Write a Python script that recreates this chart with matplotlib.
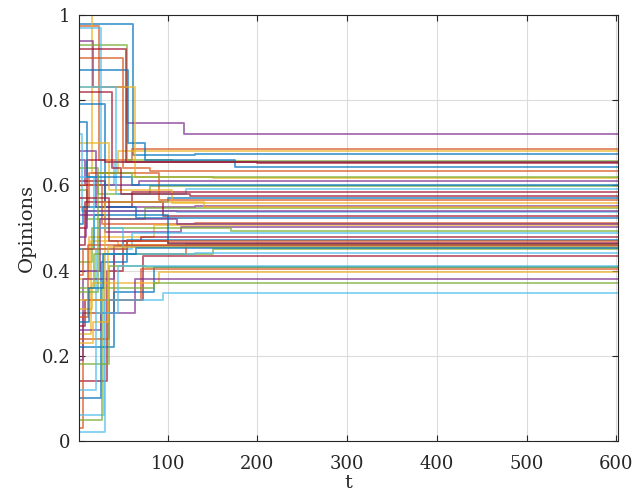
import matplotlib
matplotlib.use('Agg')
import matplotlib.pyplot as plt

# MATLAB default colour order
colors = ['#0072BD', '#D95319', '#EDB120', '#7E2F8E', '#77AC30', '#4DBEEE', '#A2142F']

t_end = 602

# opinion levels of each agent (start, intermediate..., final)
levels = [
    [0.98, 0.672, 0.674], [0.975, 0.66, 0.686], [1.0, 0.63, 0.681], [0.94, 0.83, 0.746, 0.720],
    [0.93, 0.66, 0.657], [0.97, 0.60, 0.655], [0.92, 0.655, 0.653], [0.87, 0.70, 0.66, 0.644],
    [0.90, 0.64, 0.634], [0.83, 0.62, 0.617], [0.66, 0.60, 0.611], [0.64, 0.58, 0.599],
    [0.83, 0.58, 0.592], [0.61, 0.55, 0.585, 0.584], [0.79, 0.56, 0.570], [0.55, 0.63, 0.566],
    [0.70, 0.59, 0.558], [0.68, 0.55, 0.552], [0.59, 0.52, 0.546], [0.72, 0.54, 0.537],
    [0.46, 0.56, 0.528], [0.51, 0.55, 0.523], [0.60, 0.51, 0.512], [0.38, 0.48, 0.507],
    [0.53, 0.49, 0.502], [0.42, 0.50, 0.494], [0.30, 0.45, 0.488], [0.14, 0.40, 0.47, 0.480],
    [0.10, 0.42, 0.472], [0.03, 0.30, 0.44, 0.462], [0.25, 0.47, 0.460], [0.19, 0.38, 0.458],
    [0.36, 0.44, 0.450], [0.06, 0.44, 0.442], [0.27, 0.33, 0.435], [0.22, 0.35, 0.409],
    [0.24, 0.33, 0.404], [0.31, 0.37, 0.397], [0.26, 0.30, 0.380], [0.05, 0.36, 0.372],
    [0.02, 0.33, 0.347], [0.50, 0.66, 0.655], [0.45, 0.53, 0.462], [0.29, 0.46, 0.460],
    [0.33, 0.56, 0.550], [0.40, 0.52, 0.510], [0.18, 0.41, 0.409], [0.62, 0.50, 0.455],
    [0.57, 0.47, 0.465], [0.75, 0.62, 0.600], [0.39, 0.45, 0.470], [0.23, 0.28, 0.455],
    [0.48, 0.54, 0.540], [0.35, 0.63, 0.620], [0.12, 0.30, 0.410], [0.82, 0.64, 0.58, 0.575],
    [0.28, 0.36, 0.44, 0.452],
]

# times at which each agent's opinion jumps
jump_times = [
    [61, 130], [23, 60], [15, 45], [17, 54, 118], [54, 105], [26, 40], [53, 200], [56, 75, 175],
    [50, 80], [63, 150], [8, 68], [22, 80], [42, 120], [30, 60, 140], [30, 100], [12, 90],
    [35, 105], [20, 130], [10, 75], [4, 110], [8, 95], [5, 65], [27, 130], [12, 85],
    [30, 115], [15, 170], [20, 60], [32, 50, 70], [25, 55], [5, 40, 120], [14, 45], [5, 40],
    [18, 150], [29, 130], [8, 72], [40, 85], [35, 70], [16, 90], [25, 63], [27, 85],
    [30, 95], [10, 30], [18, 100], [11, 50], [30, 140], [24, 110], [35, 75], [18, 50],
    [35, 100], [10, 60], [6, 55], [17, 33], [9, 88], [22, 60], [20, 45], [38, 48, 125],
    [12, 28, 65],
]

plt.rcParams['font.family'] = 'DejaVu Serif'
fig = plt.figure(figsize=(6.34, 5.01), dpi=100)
ax = fig.add_axes([0.1246, 0.1198, 0.8502, 0.8502])

for i, (vals, tj) in enumerate(zip(levels, jump_times)):
    x = [0] + tj + [t_end]
    y = vals + [vals[-1]]
    ax.step(x, y, where='post', color=colors[i % 7], lw=1.3, alpha=0.7)

ax.set_xlim(1, t_end)
ax.set_ylim(0, 1)
ax.set_xticks([100, 200, 300, 400, 500, 600])
ax.set_yticks([0, 0.2, 0.4, 0.6, 0.8, 1])
ax.set_yticklabels(['0', '0.2', '0.4', '0.6', '0.8', '1'])
ax.grid(True, color='#dcdcdc', lw=0.8)
ax.set_axisbelow(True)
ax.tick_params(direction='in', top=True, right=True, labelsize=13,
               colors='#262626', length=4)
ax.tick_params(axis='x', pad=10)
ax.tick_params(axis='y', pad=6)
for s in ax.spines.values():
    s.set_color('#262626')
ax.set_xlabel('t', fontsize=14, color='#262626', labelpad=1)
ax.set_ylabel('Opinions', fontsize=14, color='#262626', labelpad=4)

fig.savefig('out.png', dpi=100)
